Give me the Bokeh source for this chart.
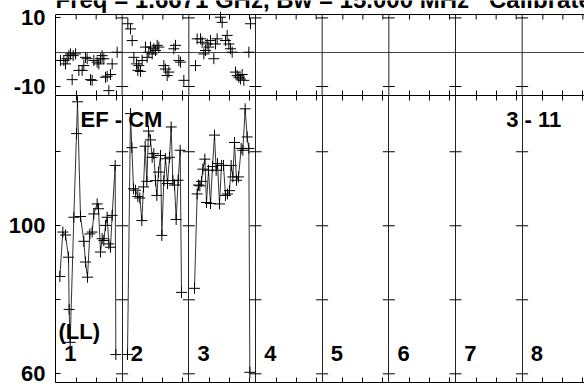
from bokeh.plotting import figure
from bokeh.layouts import column
from bokeh.models import Range1d, FixedTicker, LinearAxis, Label, Span
from bokeh.core.properties import value
from bokeh.embed import file_html
from bokeh.resources import INLINE

# ---------------- data ----------------
panel_names = ["1", "2", "3", "4", "5", "6", "7", "8"]
title_text = "Freq = 1.6671 GHz, Bw = 15.000 MHz\u00a0\u00a0\u00a0Calibrated"
source_label = "EF - CM"
date_label = "3 - 11"
pol_label = "(LL)"

# amplitude (bottom panel): time within panel, value
amp_t_1 = [0.65, 1.1, 1.5, 1.95, 2.05, 2.2, 2.75, 3.15, 3.3, 3.75, 4.25, 4.5, 4.8, 5.15,
           5.5, 5.75, 6.25, 6.45, 6.75, 7.0, 7.25, 7.5, 7.75, 8.0, 8.25, 8.5, 8.95, 9.05]
amp_v_1 = [86.3, 98.3, 97.5, 91.5, 77.4, 68.5, 102.3, 124.9, 133.5, 102.5, 95.8, 90.2, 86.1, 97.8,
           98.3, 103.2, 105.9, 104.6, 92.9, 96.5, 96.0, 100.1, 102.3, 95.1, 94.2, 102.8, 116.3, 65.2]
amp_t_2 = [0.8, 1.25, 1.45, 1.7, 2.0, 2.35, 2.65, 2.95, 3.2, 3.45, 3.7, 3.95, 4.25, 4.5, 4.75, 5.0,
           5.2, 5.45, 5.75, 5.95, 6.25, 6.5, 6.8, 7.1, 7.35, 7.6, 7.85, 8.1, 8.4, 8.7, 8.9]
amp_v_2 = [65.2, 130.3, 121.1, 110.0, 109.6, 107.9, 107.5, 101.4, 110.5, 121.5, 112.0, 125.6, 123.2,
           118.5, 119.5, 112.2, 108.2, 114.5, 119.0, 97.4, 112.2, 118.1, 111.4, 118.5, 126.7, 112.2,
           111.0, 101.7, 112.3, 120.4, 82.0]
amp_t_3 = [0.85, 1.25, 1.45, 1.65, 1.9, 2.1, 2.4, 2.65, 2.95, 3.25, 3.55, 3.85, 4.1, 4.3, 4.6, 4.9,
           5.2, 5.5, 5.8, 6.1, 6.35, 6.6, 6.85, 7.15, 7.45, 7.85, 8.1, 8.45, 8.75, 9.0, 9.15]
amp_v_3 = [83.1, 108.6, 111.0, 110.8, 112.0, 115.3, 118.0, 106.3, 115.0, 106.0, 116.0, 124.5, 115.0,
           116.8, 105.9, 116.3, 116.3, 108.2, 108.6, 109.5, 116.3, 113.2, 122.5, 112.3, 113.2, 120.9,
           120.4, 131.6, 124.0, 120.9, 60.4]

# phase (top panel)
ph_t_1 = [0.75, 1.25, 1.5, 1.75, 2.0, 2.25, 2.5, 2.65, 3.0, 3.5, 4.0, 4.25, 4.5, 4.75, 5.25, 5.5,
          5.75, 6.25, 6.5, 6.75, 7.0, 7.25, 7.5, 7.75, 8.0, 8.25, 8.5, 9.25]
ph_v_1 = [-2.4, -2.4, -3.4, -1.9, -1.0, -0.5, -8.0, -1.0, -0.5, -5.3, -5.3, -3.9, -1.5, -1.9, -8.0,
          -8.2, -2.4, -2.9, -3.4, -1.9, -1.0, -1.9, -7.3, -7.0, -11.2, -6.5, -3.4, 0.0]
ph_t_2 = [0.85, 1.25, 1.5, 1.75, 2.15, 2.35, 2.5, 2.75, 3.0, 3.5, 3.75, 4.0, 4.25, 4.5, 4.75, 5.0,
          5.25, 5.5, 6.25, 6.5, 6.75, 7.0, 7.75, 8.0, 8.5, 8.75, 9.25]
ph_v_2 = [8.3, 6.8, 3.4, -1.5, -3.4, -5.3, -3.9, -5.6, -2.4, 1.5, -1.5, 0.0, 1.5, -0.5, 1.0, 0.5,
          2.0, 1.5, -3.9, -4.9, -6.8, -5.8, 1.0, 2.0, -2.4, -2.9, -8.2]
ph_t_3 = [1.0, 1.25, 1.75, 2.0, 2.25, 2.5, 2.75, 3.0, 3.25, 3.75, 4.0, 4.25, 4.75, 5.0, 5.5, 5.75,
          6.0, 6.25, 6.5, 7.0, 7.25, 7.5, 7.75, 8.0, 8.25, 9.0, 9.25]
ph_v_3 = [-3.9, 3.9, 3.9, 2.9, -0.5, 0.5, 2.4, 1.5, 3.4, -1.9, 2.4, 3.9, 10.2, 8.7, 3.4, 4.9,
          2.4, 1.0, 0.0, -5.8, -6.8, -7.3, -7.8, -6.5, -8.2, 0.0, 8.3]

amp_panels = [(amp_t_1, amp_v_1), (amp_t_2, amp_v_2), (amp_t_3, amp_v_3)]
ph_panels = [(ph_t_1, ph_v_1), (ph_t_2, ph_v_2), (ph_t_3, ph_v_3)]

amp_ticks = [60, 80, 100, 120]
amp_tick_labels = {80: "", 120: ""}
ph_ticks = [-10, 10]
ph_tick_labels = {-10: "-10", 10: "10"}

# ---------------- layout ----------------
FONT = "Liberation Sans"
PW = 10.0                      # width of one panel in x units
PANEL_PX = 66.667
LEFT = 55
FRAME_W = 529
X_END = FRAME_W / PANEL_PX * PW
boundaries = [PW * k for k in range(1, 8)]
x_minor = [PW * k + o for k in range(8) for o in (3.1, 6.1, 9.1)]

PH_LO, PH_HI = -12.62, 10.99          # phase panel limits
PH_PX = 3.43                          # pixels per degree
PH_FRAME_H = 95
PH_TOP = PH_LO + PH_FRAME_H / PH_PX   # frame also holds the clipped title strip
TICK_LEN = 5


def style_xaxis(ax):
    ax.ticker = FixedTicker(ticks=x_minor)
    ax.major_tick_in = TICK_LEN
    ax.major_tick_out = 0
    ax.minor_tick_in = 0
    ax.minor_tick_out = 0
    ax.major_label_text_color = None
    ax.major_label_standoff = 0
    ax.axis_line_color = "black"
    ax.major_tick_line_color = "black"


def style_yaxis(ax, ticks, overrides):
    ax.ticker = FixedTicker(ticks=ticks)
    ax.major_label_overrides = overrides
    ax.major_tick_in = TICK_LEN
    ax.major_tick_out = 0
    ax.minor_tick_in = 0
    ax.minor_tick_out = 0
    ax.major_label_standoff = 10
    ax.major_label_text_font = FONT
    ax.major_label_text_font_style = "bold"
    ax.major_label_text_font_size = "22px"
    ax.major_label_text_color = "black"
    ax.axis_line_color = "black"


# ---------- top panel (phase) ----------
top = figure(frame_width=FRAME_W, frame_height=PH_FRAME_H,
             x_range=Range1d(0, X_END), y_range=Range1d(PH_LO, PH_TOP),
             output_backend="svg", toolbar_location=None,
             min_border_left=LEFT, min_border_right=0, min_border_top=0, min_border_bottom=0,
             background_fill_color="white", border_fill_color="white")
top.outline_line_color = None
style_xaxis(top.xaxis[0])
style_yaxis(top.yaxis[0], ph_ticks, ph_tick_labels)
top.yaxis[0].bounds = (PH_LO, PH_HI)
top.xgrid.grid_line_color = None
top.ygrid.ticker = FixedTicker(ticks=[0])
top.ygrid.grid_line_color = "#444444"
top.ygrid.grid_line_width = 1
# upper border of the phase panel, its inward ticks and panel separators
top.add_layout(Span(location=PH_HI, dimension="width", line_color="black", line_width=1))
top.segment(x0=x_minor, y0=[PH_HI] * len(x_minor), x1=x_minor,
            y1=[PH_HI - TICK_LEN / PH_PX] * len(x_minor), line_color="black", line_width=1)
top.segment(x0=boundaries, y0=[PH_LO] * len(boundaries), x1=boundaries,
            y1=[PH_HI] * len(boundaries), line_color="#222222", line_width=1)
top.scatter(x=[b for b in boundaries for _ in ph_ticks],
            y=[t for _ in boundaries for t in ph_ticks],
            marker="dash", size=12, line_color="black", line_width=1)
for k, (t, v) in enumerate(ph_panels):
    top.scatter(x=[k * PW + u for u in t], y=v, marker="cross", size=11,
                line_color="black", line_width=1)
top.add_layout(Label(x=0.0, y=PH_HI + 15.5 / PH_PX, text=title_text, text_font=FONT,
                     text_font_style="bold", text_font_size="24px",
                     text_baseline="middle", text_align="left", text_color="black"))

# ---------- bottom panel (amplitude) ----------
bot = figure(frame_width=FRAME_W, frame_height=287,
             x_range=top.x_range, y_range=Range1d(57.65, 135.2),
             output_backend="svg", toolbar_location=None,
             min_border_left=LEFT, min_border_right=0, min_border_top=0, min_border_bottom=1,
             background_fill_color="white", border_fill_color="white")
bot.outline_line_color = None
bot.add_layout(LinearAxis(), "above")
for ax in bot.xaxis:
    style_xaxis(ax)
style_yaxis(bot.yaxis[0], amp_ticks, amp_tick_labels)
bot.xgrid.ticker = FixedTicker(ticks=boundaries)
bot.xgrid.grid_line_color = "#222222"
bot.xgrid.grid_line_width = 1
bot.ygrid.grid_line_color = None
bot.scatter(x=[b for b in boundaries for _ in amp_ticks],
            y=[t for _ in boundaries for t in amp_ticks],
            marker="dash", size=12, line_color="black", line_width=1)
for k, (t, v) in enumerate(amp_panels):
    xs = [k * PW + u for u in t]
    bot.line(x=xs, y=v, line_color="#333333", line_width=1)
    bot.scatter(x=xs, y=v, marker="cross", size=11, line_color="black", line_width=1)

bot.text(x=[k * PW + 1.3 for k in range(len(panel_names))], y=[65.5] * len(panel_names),
         text=panel_names, text_font=value(FONT), text_font_style="bold",
         text_font_size="22px", text_baseline="middle", text_align="left",
         text_color="black")
for txt, xx, yy in [(source_label, 3.75, 128.8), (date_label, 67.6, 128.8), (pol_label, 0.45, 71.4)]:
    bot.add_layout(Label(x=xx, y=yy, text=txt, text_font=FONT, text_font_style="bold",
                         text_font_size="22px", text_baseline="middle",
                         text_align="left", text_color="black"))

layout = column(top, bot, spacing=0)
open("out.html", "w").write(file_html(layout, INLINE))
